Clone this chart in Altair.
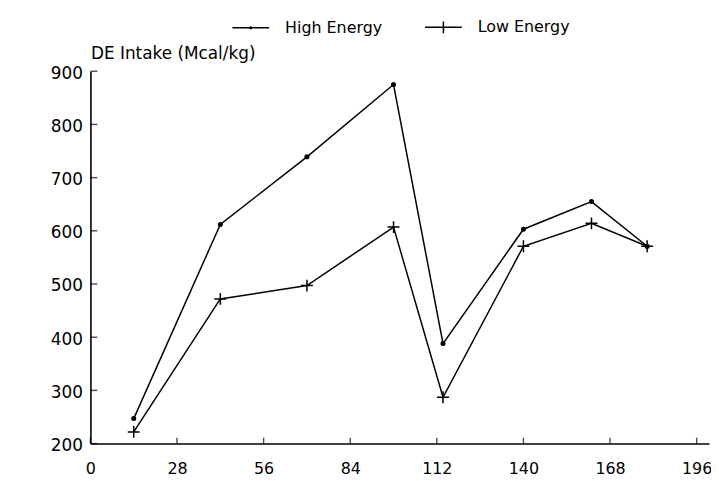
import altair as alt
import pandas as pd

# ---- data ----
days = [14, 42, 70, 98, 114, 140, 162, 180]
high_energy = [247, 612, 739, 875, 388, 603, 655, 571]
low_energy = [222, 472, 497, 607, 287, 571, 614, 571]
series_names = ["High Energy", "Low Energy"]
x_ticks = [0, 28, 56, 84, 112, 140, 168, 196]
y_ticks = [200, 300, 400, 500, 600, 700, 800, 900]

rows = []
for d, h, l in zip(days, high_energy, low_energy):
    rows.append({"day": d, "intake": h, "series": series_names[0]})
    rows.append({"day": d, "intake": l, "series": series_names[1]})
df = pd.DataFrame(rows)
xt_df = pd.DataFrame({"day": x_ticks})
yt_df = pd.DataFrame({"intake": y_ticks})

FONT = "DejaVu Sans"
LFS = 17

dot_path = "M-0.3,0A0.3,0.3 0 1,0 0.3,0A0.3,0.3 0 1,0 -0.3,0Z"
plus_path = "M-1,0L1,0M0,-1L0,1"
leg_high = "M-1,0L1,0M-0.05,0A0.05,0.05 0 1,0 0.05,0A0.05,0.05 0 1,0 -0.05,0Z"
leg_low = "M-1,0L1,0M0,-0.32L0,0.32"

x_scale = alt.Scale(domain=[0, 200], nice=False, zero=False)
y_scale = alt.Scale(domain=[200, 900], nice=False, zero=False)

x_enc = alt.X(
    "day:Q",
    scale=x_scale,
    axis=alt.Axis(
        values=x_ticks, title=None, grid=False, format="d", ticks=False,
        domainColor="black", domainWidth=1.6,
        labelFont=FONT, labelFontSize=16, labelColor="black",
        labelPadding=17, labelBaseline="top", labelFlush=False,
    ),
)
y_enc = alt.Y(
    "intake:Q",
    scale=y_scale,
    axis=alt.Axis(
        values=y_ticks, grid=False, format="d", ticks=False,
        domainColor="black", domainWidth=1.6,
        labelFont=FONT, labelFontSize=LFS, labelColor="black",
        labelPadding=8, labelOffset=2,
        title="DE Intake (Mcal/kg)", titleAngle=0, titleX=0, titleY=-13,
        titleAlign="left", titleBaseline="alphabetic",
        titleFont=FONT, titleFontSize=17, titleFontWeight="normal",
        titleColor="black",
    ),
)

lines = alt.Chart(df).mark_line(color="black", strokeWidth=1.5).encode(
    x=x_enc, y=y_enc, detail="series:N", order="day:Q"
)

points = alt.Chart(df).mark_point(
    fill="black", stroke="black", strokeWidth=1.5, size=144, opacity=1
).encode(
    x="day:Q",
    y="intake:Q",
    shape=alt.Shape(
        "series:N",
        scale=alt.Scale(domain=series_names, range=[dot_path, plus_path]),
        legend=None,
    ),
)

legend_layer = alt.Chart(df).transform_filter("false").mark_point(
    filled=False, color="black", strokeWidth=1.5, opacity=1
).encode(
    x="day:Q",
    y="intake:Q",
    shape=alt.Shape(
        "series:N",
        scale=alt.Scale(domain=series_names, range=[leg_high, leg_low]),
        legend=alt.Legend(
            title=None, orient="none", direction="horizontal",
            legendX=142, legendY=-64, padding=0,
            symbolSize=1369, symbolStrokeWidth=1.5, symbolOpacity=1,
            symbolStrokeColor="black",
            labelFont=FONT, labelFontSize=16, labelColor="black",
            labelOffset=15, columnPadding=40,
        ),
    ),
)

x_ticks_layer = alt.Chart(xt_df).mark_tick(
    orient="vertical", size=6, thickness=1.4, color="black", yOffset=-3
).encode(x=alt.X("day:Q"), y=alt.datum(200))

y_ticks_layer = alt.Chart(yt_df).mark_tick(
    orient="horizontal", size=7, thickness=1.4, color="black", xOffset=3.5
).encode(y=alt.Y("intake:Q"), x=alt.datum(0))

chart = alt.layer(
    lines, points, legend_layer, x_ticks_layer, y_ticks_layer
).resolve_scale(
    shape="independent"
).resolve_legend(shape="independent").properties(
    width=623, height=375,
    autosize=alt.AutoSizeParams(type="none"),
    padding={"left": 83, "top": 62, "right": 2, "bottom": 36},
    background="white",
).configure_view(stroke=None)

chart.save("out.html", embed_options={"renderer": "svg", "actions": False})
